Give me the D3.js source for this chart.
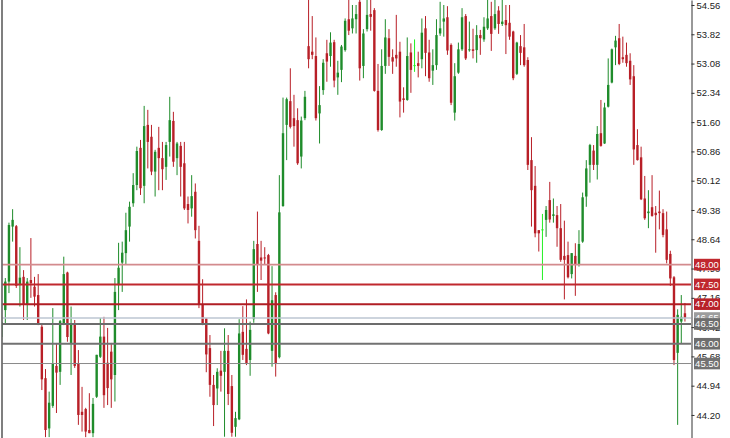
<!DOCTYPE html>
<html><head><meta charset="utf-8">
<script src="https://cdn.jsdelivr.net/npm/d3@7"></script>
<style>body{margin:0;background:#fff;}svg{display:block;}</style>
</head><body>
<svg id="chart" width="730" height="438"></svg>
<script>
const open=[46.17,46.85,47.57,48.96,48.97,47.48,47.69,46.98,47.61,47.44,47.23,46.43,45.13,43.86,44.43,45.44,45.29,46.52,47.80,46.02,
46.52,45.51,44.28,44.35,43.82,43.74,44.66,45.67,46.18,45.52,45.80,45.21,47.48,48.05,48.29,48.96,49.55,50.01,50.95,49.99,
51.53,51.23,50.35,50.95,50.69,50.47,51.10,51.63,50.69,51.00,50.56,49.53,49.42,49.84,48.60,46.98,46.64,45.89,44.96,44.87,
45.32,45.29,45.82,44.93,43.90,44.09,46.30,45.87,45.59,46.62,48.52,48.18,48.18,48.24,45.82,47.23,45.66,49.48,51.53,52.13,
51.70,51.65,50.73,51.70,53.52,53.38,53.27,51.82,52.41,53.34,53.27,53.62,52.73,52.92,53.42,54.20,53.97,54.20,54.64,53.02,
53.95,54.33,54.43,52.39,51.40,53.02,53.72,53.24,53.30,53.38,52.20,52.16,53.36,53.04,53.09,53.19,53.97,53.36,52.90,53.04,
53.84,54.14,54.25,53.55,51.84,52.85,53.44,54.28,53.42,53.44,53.42,53.80,53.69,53.97,54.28,53.97,54.42,54.08,54.18,54.11,
53.89,52.82,53.52,53.49,53.17,50.64,49.99,48.87,48.89,49.13,49.63,49.23,49.25,48.92,48.22,48.24,47.76,48.22,47.99,48.58,
49.72,50.52,50.88,50.52,51.32,51.06,51.99,52.60,53.49,53.72,53.24,53.30,53.15,52.76,51.02,50.71,49.67,49.30,49.45,49.31,
49.34,49.30,48.89,48.27,47.68,45.77,46.56,46.77];
const high=[46.62,47.66,49.06,49.40,49.00,48.44,47.86,47.66,48.67,47.69,47.76,46.52,45.36,44.79,46.90,46.02,46.60,48.20,47.82,46.94,
46.60,45.84,44.91,44.38,44.75,44.63,45.72,46.65,46.68,46.40,46.02,47.66,48.55,48.58,49.31,49.59,50.31,50.98,51.15,52.01,
51.91,51.53,50.90,51.48,51.10,51.10,52.24,51.86,51.10,51.10,51.10,49.72,50.26,50.05,48.98,47.63,46.64,46.22,45.21,45.38,
45.82,46.39,46.22,45.21,44.28,46.62,46.95,47.12,46.56,48.60,49.34,48.60,48.44,48.27,47.96,47.30,50.26,52.22,52.22,52.96,
52.29,51.95,51.74,52.39,54.75,54.28,53.74,52.51,53.19,53.68,53.87,53.68,53.15,53.55,54.22,54.72,54.56,54.56,54.72,53.95,
54.72,54.72,54.48,53.07,53.44,54.20,53.95,53.44,54.31,53.63,52.48,53.74,53.59,53.69,53.38,54.22,54.28,53.68,53.44,54.20,
54.64,54.56,54.53,53.59,53.09,53.61,54.48,54.33,54.14,53.96,54.05,53.93,54.25,54.72,54.64,54.72,54.53,54.72,54.56,54.56,
53.91,53.63,53.80,54.08,53.24,51.22,50.49,48.87,49.28,49.48,50.09,49.67,49.48,49.53,49.11,48.58,48.29,48.54,48.87,49.82,
50.64,51.05,51.02,51.50,52.16,52.09,53.21,53.46,53.78,54.08,53.76,53.61,53.34,53.04,51.42,50.98,50.24,49.88,50.26,49.48,
49.87,49.40,49.34,48.35,47.71,46.87,47.23,47.03];
const low=[46.09,46.52,47.28,48.58,47.41,46.94,46.60,46.60,47.16,46.94,46.47,44.83,43.64,43.64,44.38,44.25,44.96,46.47,46.05,45.21,
45.39,43.95,43.78,43.64,43.74,43.64,44.63,45.64,44.38,44.45,44.38,44.54,46.85,47.31,47.99,48.58,49.46,49.88,49.76,49.55,
50.43,50.26,49.72,49.88,49.88,50.14,50.73,50.47,50.26,49.72,49.38,49.04,49.21,48.66,46.90,46.47,45.28,44.66,43.92,44.45,
44.79,43.65,44.45,43.65,43.65,44.07,45.59,45.46,45.19,46.53,47.31,47.61,47.99,46.24,45.42,45.17,45.63,49.46,50.64,51.44,
50.98,50.52,50.43,51.65,52.96,53.19,51.64,51.06,52.29,52.62,53.00,52.48,52.29,52.61,53.38,53.80,53.84,53.84,52.65,52.71,
53.89,53.91,52.37,51.36,51.38,52.82,53.02,52.82,53.00,51.72,51.84,52.14,52.34,52.87,52.73,52.96,52.76,52.62,52.54,52.92,
53.78,53.76,53.30,52.03,51.64,52.82,53.40,53.17,53.38,53.21,53.10,53.30,53.63,53.93,53.40,53.93,53.83,54.03,53.32,53.68,
52.66,52.79,53.04,53.00,50.39,48.96,48.69,48.33,47.61,48.70,49.06,49.06,48.45,48.07,47.12,47.65,47.65,47.21,47.95,48.55,
49.46,50.07,50.39,50.15,50.98,51.05,51.97,52.58,53.04,53.04,53.10,53.00,52.54,50.52,50.63,49.63,49.13,48.92,49.21,48.30,
48.89,48.69,48.03,47.46,45.46,43.95,46.01,46.56];
const close=[46.55,47.57,49.00,49.13,47.46,47.67,46.98,47.57,47.53,47.19,46.52,45.10,43.82,44.51,45.49,45.27,46.57,47.76,46.17,46.52,
45.44,44.20,44.20,43.78,43.74,44.48,45.72,46.18,44.70,44.88,45.10,47.31,47.92,48.30,48.87,49.46,50.01,50.87,49.93,51.50,
51.10,50.35,50.85,50.69,50.41,51.02,51.65,50.60,51.06,50.47,49.42,49.38,49.73,48.87,46.98,46.52,45.73,44.96,44.45,45.29,
45.19,45.82,44.73,43.75,44.12,46.26,45.72,45.49,46.35,48.39,47.99,48.10,48.16,46.26,47.10,45.50,49.32,51.32,52.18,51.48,
51.50,50.56,51.64,52.24,53.19,53.30,51.70,52.03,53.10,53.13,53.61,52.65,52.85,53.51,54.16,53.91,54.22,54.33,52.96,53.84,
54.31,54.26,52.39,51.40,53.02,53.74,53.25,53.13,53.21,52.12,52.16,53.27,52.92,53.04,53.02,53.86,53.35,52.71,53.04,53.80,
53.97,54.22,53.41,52.09,52.76,53.44,54.25,53.21,53.44,53.40,53.80,53.72,54.01,54.22,53.83,54.33,54.08,54.14,54.05,53.76,
52.71,53.61,53.35,53.04,50.52,49.88,48.79,48.79,48.89,49.38,49.14,49.27,48.92,48.12,48.12,47.68,48.29,47.99,48.52,49.70,
50.43,51.02,50.52,51.30,51.00,51.97,52.54,53.44,53.66,53.07,53.19,53.09,52.68,50.91,50.64,49.65,49.17,49.34,49.23,49.25,
49.30,48.75,48.12,47.65,45.59,46.73,46.68,46.65];

const tickLabels=["44.20","44.94","45.68","46.42","47.16","47.90","48.64","49.38","50.12","50.86","51.60","52.34","53.08","53.82","54.56"];
const levelValues=[48.00,47.50,47.00,46.50,46.00,45.50];
const levelLabels=["48.00","47.50","47.00","46.50","46.00","45.50"];
const bidValue=46.65;
const bidLabel="46.65";

const W=730,H=438,axisX=691;
const svg=d3.select("#chart");
const y=d3.scaleLinear().domain([43.618,54.686]).range([H,0]);
const x=d3.scaleLinear().domain([0,open.length-1]).range([1.65,684.95]);
const bw=2.4;
const BULL="#1f8c2b",BEAR="#b81f27",DOJI="#22f022";
const col=i=>close[i]>open[i]?BULL:(close[i]<open[i]?BEAR:DOJI);

svg.append("defs").append("clipPath").attr("id","clip")
  .append("rect").attr("x",2.5).attr("y",0).attr("width",axisX-2.5).attr("height",H);

const plot=svg.append("g").attr("clip-path","url(#clip)");
const idx=d3.range(open.length);
plot.selectAll("line.wick").data(idx).join("line").attr("class","wick")
  .attr("x1",i=>x(i)).attr("x2",i=>x(i))
  .attr("y1",i=>y(high[i])).attr("y2",i=>y(low[i]))
  .attr("stroke",col).attr("stroke-width",1);
plot.selectAll("rect.body").data(idx).join("rect").attr("class","body")
  .attr("x",i=>x(i)-bw/2).attr("width",bw)
  .attr("y",i=>y(Math.max(open[i],close[i])))
  .attr("height",i=>Math.max(1,Math.abs(y(open[i])-y(close[i]))))
  .attr("fill",col);

// level lines
const levelStyle=[{c:"#d38b8e",w:1.6},{c:"#c0282e",w:2},{c:"#b01e24",w:2},{c:"#6c6c6c",w:2},{c:"#727272",w:2},{c:"#8a8a8a",w:1}];
plot.append("line").attr("x1",2).attr("x2",axisX).attr("y1",y(bidValue)).attr("y2",y(bidValue))
  .attr("stroke","#bcc6d2").attr("stroke-width",1.6);
plot.selectAll("line.level").data(levelValues).join("line").attr("class","level")
  .attr("x1",2).attr("x2",axisX).attr("y1",d=>y(d)).attr("y2",d=>y(d))
  .attr("stroke",(d,i)=>levelStyle[i].c).attr("stroke-width",(d,i)=>levelStyle[i].w);

// left border
svg.append("line").attr("x1",2).attr("x2",2).attr("y1",0).attr("y2",H).attr("stroke","#555").attr("stroke-width",1.5);

// right axis
const axis=d3.axisRight(y).tickValues(tickLabels.map(Number)).tickFormat(d3.format(".2f")).tickSize(3).tickSizeOuter(0).tickPadding(2);
const ag=svg.append("g").attr("transform",`translate(${axisX+0.5},0)`).call(axis);
ag.select(".domain").attr("stroke","#333");
ag.selectAll(".tick line").attr("stroke","#333");
ag.selectAll(".tick text").attr("fill","#222").style("font-family","Liberation Sans, Arial, sans-serif").style("font-size","9.5px");

// price label boxes
const boxFill=["#c0282e","#c0282e","#b8222a","#6e6e6e","#6e6e6e","#727272"];
function box(v,label,fill){
  const g=svg.append("g").attr("transform",`translate(694,${y(v)})`);
  g.append("rect").attr("x",0).attr("y",-5.8).attr("width",26).attr("height",11.6).attr("fill",fill);
  g.append("text").attr("x",13).attr("y",0).attr("dy","0.35em").attr("text-anchor","middle")
    .attr("fill","#fff").style("font-family","Liberation Sans, Arial, sans-serif").style("font-size","9.5px").text(label);
}
box(bidValue,bidLabel,"#9d9d9d");
levelValues.forEach((v,i)=>box(v,levelLabels[i],boxFill[i]));
</script>
</body></html>
